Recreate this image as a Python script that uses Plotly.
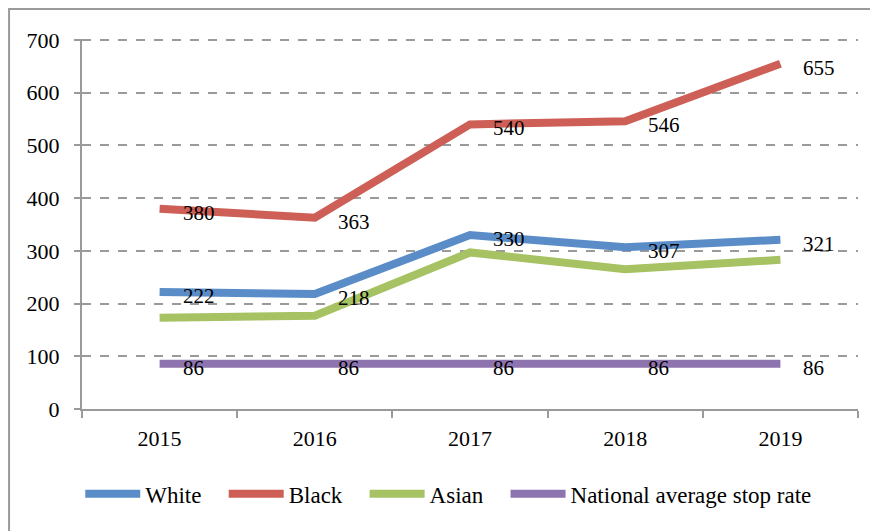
import plotly.graph_objects as go

years = ["2015", "2016", "2017", "2018", "2019"]
white = [222, 218, 330, 307, 321]
black = [380, 363, 540, 546, 655]
asian = [173, 177, 297, 265, 283]
national = [86, 86, 86, 86, 86]

pad = "\u00a0\u00a0\u00a0"  # extra room between legend entries
series = [
    ("White" + pad, white, "#5A8DC8", True),
    ("Black" + pad, black, "#CD5F57", True),
    ("Asian" + pad, asian, "#A6C263", False),
    ("National average stop rate", national, "#8D74AE", True),
]

font = "Liberation Serif"
grey = "#9A9A9A"

fig = go.Figure()
annotations = []
for name, vals, color, labelled in series:
    fig.add_trace(go.Scatter(
        x=years, y=vals, name=name, mode="lines",
        line=dict(color=color, width=8),
    ))
    if labelled:
        # category axis -> annotation x is the category index
        for i, v in enumerate(vals):
            annotations.append(dict(
                x=i, y=v, text=str(v), showarrow=False,
                xanchor="left", yanchor="middle", xshift=21, yshift=-4,
                font=dict(family=font, size=21, color="black"),
            ))

fig.update_layout(
    width=878, height=531,
    margin=dict(l=74, r=28, t=31, b=130),
    paper_bgcolor="white", plot_bgcolor="white",
    font=dict(family=font, size=22, color="black"),
    annotations=annotations,
    showlegend=True,
    legend=dict(
        orientation="h", xref="container", yref="container",
        x=0.502, xanchor="center", y=0.085, yanchor="middle",
        font=dict(family=font, size=23, color="black"),
        itemwidth=55, tracegroupgap=0,
    ),
    xaxis=dict(
        type="category", range=[-0.5, 4.5], tickson="boundaries",
        showline=True, linecolor=grey, linewidth=2,
        ticks="outside", ticklen=7, tickwidth=2, tickcolor=grey,
        showgrid=False, ticklabelstandoff=9,
        tickfont=dict(family=font, size=22),
    ),
    yaxis=dict(
        range=[0, 702], tickvals=[0, 100, 200, 300, 400, 500, 600, 700],
        showline=True, linecolor=grey, linewidth=2,
        ticks="outside", ticklen=6, tickwidth=2, tickcolor=grey,
        showgrid=True, gridcolor=grey, gridwidth=2, griddash="dash",
        zeroline=False, ticklabelstandoff=10,
        tickfont=dict(family=font, size=22),
    ),
    shapes=[dict(
        type="rect", xref="paper", yref="paper",
        x0=-0.094, x1=1.05, y0=-0.36, y1=1.081,
        line=dict(color=grey, width=2), fillcolor="rgba(0,0,0,0)",
        layer="below",
    )],
)

fig.write_html("out.html")
